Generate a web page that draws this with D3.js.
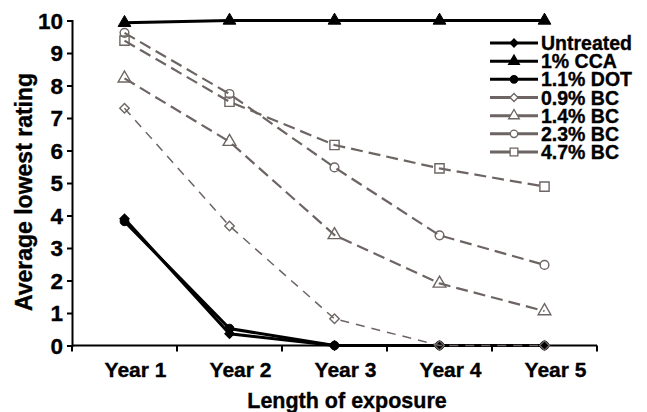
<!DOCTYPE html>
<html>
<head>
<meta charset="utf-8">
<script src="https://cdn.jsdelivr.net/npm/d3@7"></script>
<style>
	body { margin: 0; background: #fff; }
	svg { display: block; font-family: "Liberation Sans", Arial, sans-serif; font-weight: bold; }
	svg text { stroke: #000; stroke-width: 0.35px; }
</style>
</head>
<body>
<div id="chart"></div>
<script>
const years = ['Year 1', 'Year 2', 'Year 3', 'Year 4', 'Year 5']
const yTicks = [0, 1, 2, 3, 4, 5, 6, 7, 8, 9, 10]

const seriesNames = ['Untreated', '1% CCA', '1.1% DOT', '0.9% BC', '1.4% BC', '2.3% BC', '4.7% BC']
const untreated = [3.9, 0.36, 0, 0, 0]
const cca = [9.93, 10, 10, 10, 10]
const dot = [3.82, 0.52, 0, 0, 0]
const bc09 = [7.3, 3.68, 0.82, 0, 0]
const bc14 = [8.22, 6.27, 3.4, 1.91, 1.06]
const bc23 = [9.62, 7.74, 5.48, 3.39, 2.48]
const bc47 = [9.38, 7.5, 6.17, 5.45, 4.89]

const black = '#000'
const grey = '#6d6563'

// look of each series: [line colour, width, dash, symbol, filled]
const styles = [
	[black, 3, null, 'diamond', true],
	[black, 3, null, 'triangle', true],
	[black, 3, null, 'circle', true],
	[grey, 1.5, '9,7', 'diamond', false],
	[grey, 2.2, '12,6', 'triangle', false],
	[grey, 2.2, '12,6', 'circle', false],
	[grey, 2.2, '12,6', 'square', false]
]
const symType = {diamond: d3.symbolSquare, triangle: d3.symbolTriangle, circle: d3.symbolCircle, square: d3.symbolSquare}
const symSize = {diamond: 45, triangle: 70, circle: 60, square: 85}
const values = [untreated, cca, dot, bc09, bc14, bc23, bc47]

const W = 647, H = 412
const svg = d3.select('#chart').append('svg').attr('width', W).attr('height', H)

const x = d3.scalePoint().domain(years).range([72, 597]).padding(0.5)
const xb = d3.scaleBand().domain(years).range([72, 597])
const y = d3.scaleLinear().domain([0, 10]).range([345.5, 20.5])

// y axis
const yAxis = svg.append('g')
	.attr('transform', 'translate(72,0)')
	.call(d3.axisLeft(y).tickValues(yTicks).tickSize(5).tickPadding(4).tickFormat(d3.format('d')))
yAxis.select('.domain').attr('stroke', black).attr('stroke-width', 2)
yAxis.selectAll('.tick line').attr('stroke-width', 2)
yAxis.selectAll('.tick text').attr('font-size', 22.5).attr('fill', black)
	.attr('font-family', '"Liberation Sans", Arial, sans-serif').attr('font-weight', 'bold')
	.attr('dy', '0.34em')

// x axis, ticks between categories
const xg = svg.append('g').attr('transform', `translate(0,${y(0)})`)
xg.append('line').attr('x1', 72).attr('x2', 597).attr('stroke', black).attr('stroke-width', 2)
xg.selectAll('.xtick').data(years.concat(['end'])).enter().append('line')
	.attr('x1', d => d === 'end' ? xb.range()[1] : xb(d))
	.attr('x2', d => d === 'end' ? xb.range()[1] : xb(d))
	.attr('y1', 0).attr('y2', 6)
	.attr('stroke', black).attr('stroke-width', 2)
xg.selectAll('.xlab').data(years).enter().append('text')
	.attr('x', d => x(d) + 11).attr('y', 31)
	.attr('text-anchor', 'middle').attr('font-size', 21)
	.text(d => d)

svg.append('text')
	.attr('x', 347).attr('y', 408)
	.attr('text-anchor', 'middle').attr('font-size', 21.5)
	.text('Length of exposure')

svg.append('text')
	.attr('transform', 'translate(32,192) rotate(-90)')
	.attr('text-anchor', 'middle').attr('font-size', 23)
	.text('Average lowest rating')

// series
const line = d3.line().x((d, i) => x(years[i])).y(d => y(d))
const marker = (sel, s, scale) => sel
	.attr('d', d3.symbol().type(symType[s]).size(symSize[s] * scale))

values.forEach((vals, i) => {
	const [col, w, dash, sym, filled] = styles[i]
	const rot = sym === 'diamond' ? ' rotate(45)' : ''
	const g = svg.append('g')
	g.append('path')
		.attr('d', line(vals))
		.attr('fill', 'none').attr('stroke', col).attr('stroke-width', w)
		.attr('stroke-dasharray', dash)
	g.selectAll('path.m').data(vals).enter().append('path')
		.attr('class', 'm')
		.attr('transform', (d, j) => `translate(${x(years[j])},${y(d)})${rot}`)
		.call(marker, sym, 1)
		.attr('fill', filled ? col : 'none')
		.attr('stroke', col).attr('stroke-width', filled ? 1 : 1.4)
})

// legend
const ly = d3.scalePoint().domain(seriesNames).range([43, 152])
const leg = svg.append('g')
seriesNames.forEach((name, i) => {
	const [col, , , sym, filled] = styles[i]
	const rot = sym === 'diamond' ? ' rotate(45)' : ''
	const g = leg.append('g').attr('transform', `translate(0,${ly(name)})`)
	g.append('line').attr('x1', 490).attr('x2', 538)
		.attr('stroke', col).attr('stroke-width', 3)
	g.append('path')
		.attr('transform', `translate(514,0)${rot}`)
		.call(marker, sym, 0.7)
		.attr('fill', filled ? col : '#fff')
		.attr('stroke', col).attr('stroke-width', 1.3)
	g.append('text')
		.attr('x', 541).attr('y', 7)
		.attr('font-size', 19.5)
		.text(name)
})
</script>
</body>
</html>
